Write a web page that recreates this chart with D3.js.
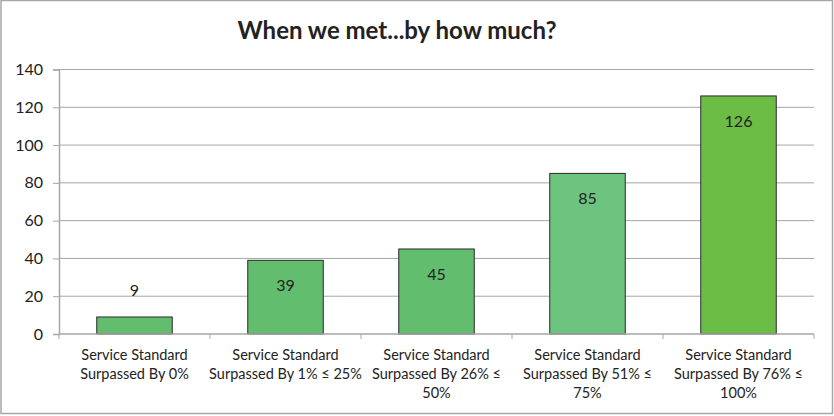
<!DOCTYPE html>
<html>
<head>
<meta charset="utf-8">
<script src="https://cdn.jsdelivr.net/npm/d3@7"></script>
<style>
  body { margin: 0; background: #fff; }
  text { font-family: Lato, "Open Sans", sans-serif; }
</style>
</head>
<body>
<div class="chart"></div>
<script>
const categories = [
  ["Service Standard", "Surpassed By 0%"],
  ["Service Standard", "Surpassed By 1% \u2264 25%"],
  ["Service Standard", "Surpassed By 26% \u2264", "50%"],
  ["Service Standard", "Surpassed By 51% \u2264", "75%"],
  ["Service Standard", "Surpassed By 76% \u2264", "100%"],
];
const values = [9, 39, 45, 85, 126];
const barColors = ["#62be6e", "#62be6e", "#62be6e", "#6dc47f", "#6cbd45"];
const yTicks = [0, 20, 40, 60, 80, 100, 120, 140];

const width = 834, height = 416;
const plot = { left: 59, right: 814, top: 69.5, bottom: 334 };

const svg = d3.select(".chart").append("svg")
  .attr("width", width).attr("height", height);

// outer frame
svg.append("rect")
  .attr("x", 1).attr("y", 0.5)
  .attr("width", 831.5).attr("height", 413)
  .attr("fill", "#fff")
  .attr("stroke", "#a6a6a6")
  .attr("stroke-width", 1.5);

svg.append("text")
  .text("When we met...by how much?")
  .attr("x", 397).attr("y", 39)
  .attr("text-anchor", "middle")
  .style("font-size", "24px")
  .style("font-weight", "bold")
  .attr("fill", "#222");

const x = d3.scaleBand()
  .domain(d3.range(values.length))
  .range([plot.left, plot.right])
  .paddingInner(0.5).paddingOuter(0.25);

const y = d3.scaleLinear().domain([0, 140]).range([plot.bottom, plot.top]);

// gridlines
svg.append("g")
  .selectAll("line")
  .data(yTicks.slice(1))
  .join("line")
  .attr("x1", plot.left).attr("x2", plot.right)
  .attr("y1", d => y(d)).attr("y2", d => y(d))
  .attr("stroke", "#a6a6a6").attr("stroke-width", 1);

// y axis
const yAxis = svg.append("g")
  .attr("transform", `translate(${plot.left},0)`)
  .call(d3.axisLeft(y).tickValues(yTicks).tickSize(6).tickPadding(10));
yAxis.select(".domain").attr("stroke", "#a6a6a6").attr("stroke-width", 1.5);
yAxis.selectAll(".tick line").attr("stroke", "#a6a6a6");
yAxis.selectAll("text").style("font-size", "16px").style("font-family", "Lato, sans-serif").attr("fill", "#222");

// bars
svg.append("g")
  .selectAll("rect")
  .data(values)
  .join("rect")
  .attr("x", (d, i) => x(i))
  .attr("y", d => y(d))
  .attr("width", x.bandwidth())
  .attr("height", d => y(0) - y(d))
  .attr("fill", (d, i) => barColors[i])
  .attr("stroke", "#2a2a2a")
  .attr("stroke-width", 1);

// value labels
svg.append("g")
  .selectAll("text")
  .data(values)
  .join("text")
  .text(d => d)
  .attr("x", (d, i) => x(i) + x.bandwidth() / 2)
  .attr("y", d => (y(0) - y(d) < 40 ? y(d) - 21 : y(d) + 31))
  .attr("text-anchor", "middle")
  .style("font-size", "16px")
  .attr("fill", "#222");

// x axis
const xEdges = d3.range(values.length + 1).map(i => plot.left + i * (plot.right - plot.left) / values.length);
svg.append("line")
  .attr("x1", plot.left).attr("x2", plot.right)
  .attr("y1", plot.bottom).attr("y2", plot.bottom)
  .attr("stroke", "#a6a6a6").attr("stroke-width", 1.5);
svg.append("g")
  .selectAll("line")
  .data(xEdges)
  .join("line")
  .attr("x1", d => d).attr("x2", d => d)
  .attr("y1", plot.bottom).attr("y2", plot.bottom + 5)
  .attr("stroke", "#a6a6a6");

svg.append("g")
  .selectAll("text")
  .data(categories)
  .join("text")
  .attr("x", (d, i) => x(i) + x.bandwidth() / 2)
  .attr("y", 360)
  .attr("text-anchor", "middle")
  .style("font-size", "14.5px")
  .attr("fill", "#222")
  .selectAll("tspan")
  .data(d => d)
  .join("tspan")
  .attr("x", function () { return this.parentNode.getAttribute("x"); })
  .attr("dy", (d, i) => (i === 0 ? 0 : 19))
  .text(d => d);
</script>
</body>
</html>
